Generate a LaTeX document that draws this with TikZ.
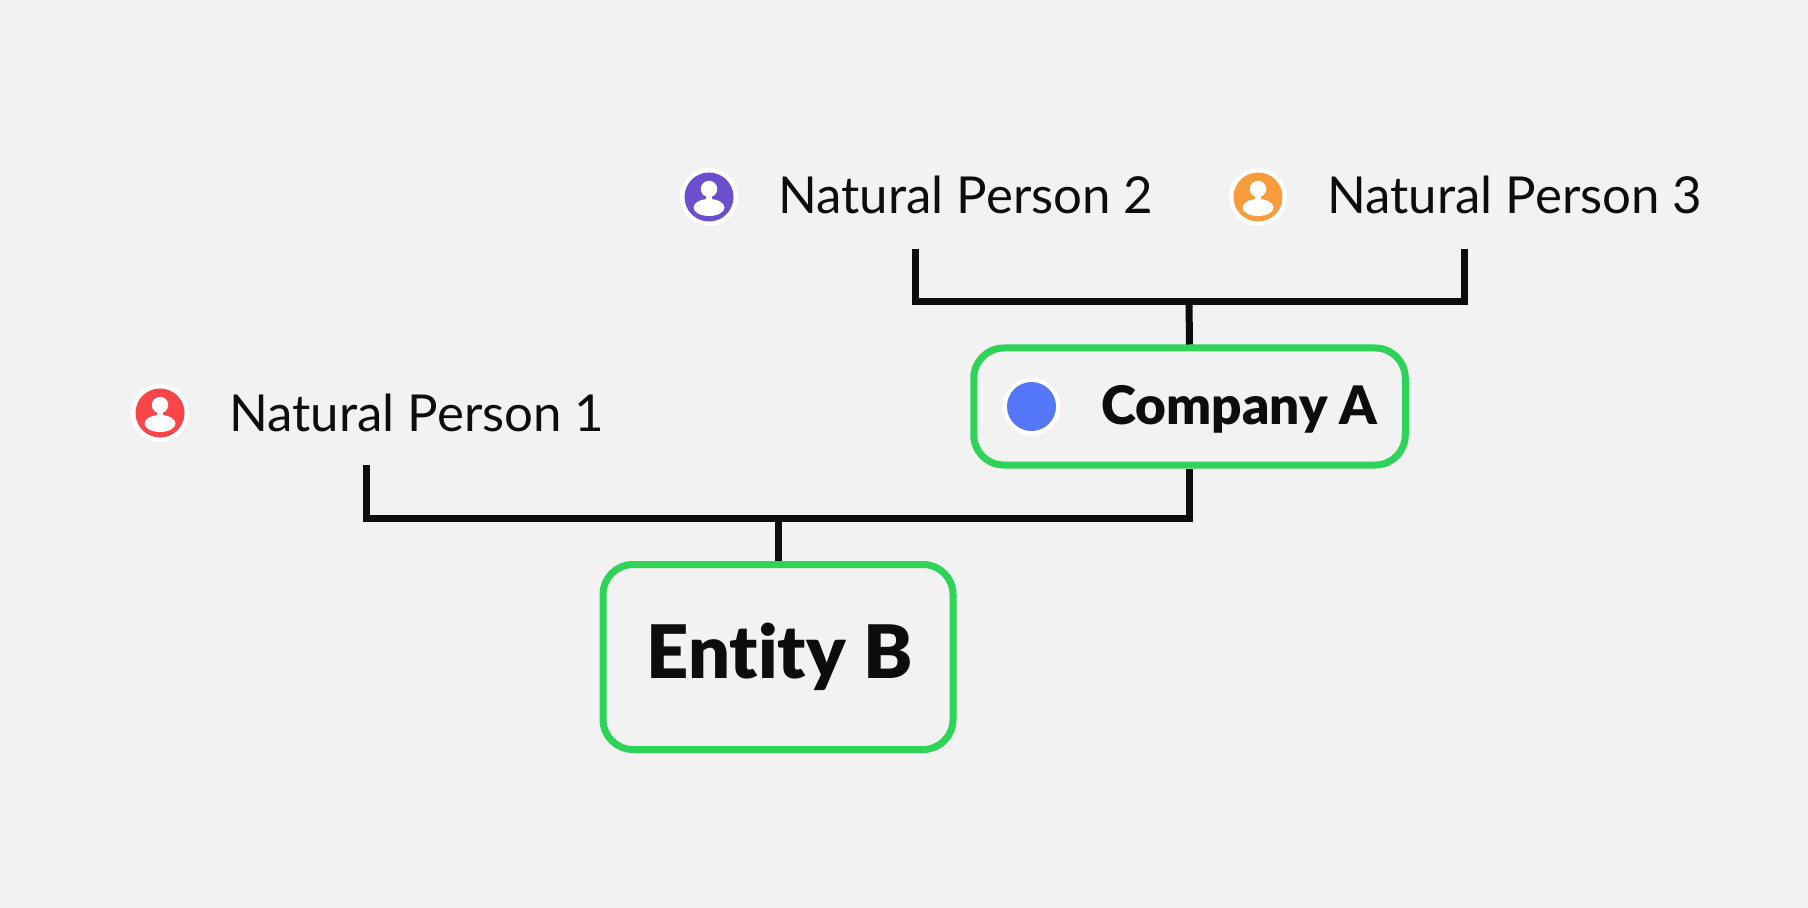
\documentclass[tikz,border=0pt]{standalone}
\usepackage{fontspec}
\setmainfont[BoldFont={Lato Black},Ligatures=NoCommon]{Lato}
\usetikzlibrary{calc}
\definecolor{pagegray}{HTML}{F2F2F2}
\definecolor{inkblack}{HTML}{0D0D0D}
\definecolor{boxgreen}{HTML}{2ED457}
\definecolor{iconred}{HTML}{FA4549}
\definecolor{iconpurple}{HTML}{6B4FCC}
\definecolor{iconorange}{HTML}{FA9C3E}
\definecolor{iconblue}{HTML}{5577FA}
\tikzset{
  link/.style={line width=1.4mm, draw=inkblack},
  entitybox/.style={draw=boxgreen, line width=1.4mm, rounded corners=6mm, inner sep=0pt},
  personlabel/.style={anchor=base west, inner sep=0pt, text=inkblack, font=\fontsize{29pt}{29pt}\selectfont},
  ringdot/.style={circle, fill=white, minimum size=11.6mm, inner sep=0pt},
  colordot/.style={circle, minimum size=9.8mm, inner sep=0pt},
}
\newcommand{\personicon}[3]{%
  \node[ringdot] (#1) at (#2) {};
  \node[colordot, fill=#3] at (#1) {};
  \fill[white] ($(#1)+(0,-8)$) circle (1.65mm);
  \fill[white] ($(#1)+(-3,-3)$) rectangle ($(#1)+(3,6)$);
  \fill[white] ($(#1)+(0,10.5)$) ellipse (3.1mm and 1.7mm);
}
\begin{document}
\begin{tikzpicture}[x=0.2mm, y=-0.2mm]
\useasboundingbox[fill=pagegray] (0,0) rectangle (1808,908);
% connectors first, the boxes sit on top
\coordinate (foottwo) at (915,249);
\coordinate (footthree) at (1464,249);
\coordinate (footone) at (366,465);
\coordinate (barupper) at (1189,302);
\coordinate (barlower) at (778,518);
\node[entitybox, minimum width=86.3mm, minimum height=23.4mm] (companyA) at (1189.5,406.5) {};
\node[entitybox, minimum width=70mm, minimum height=37mm] (entityB) at (778,657) {};
\draw[link] (foottwo) |- (barupper) -| (footthree);
\draw[link] (barupper) -- (companyA.north);
\draw[link] (footone) |- (barlower) -| (companyA.south);
\draw[link] (barlower) -- (entityB.north);
% people
\personicon{iconone}{160,413}{iconred}
\personicon{icontwo}{709,197}{iconpurple}
\personicon{iconthree}{1258,197}{iconorange}
\node[personlabel] (personone) at (229,431) {Natural Person 1};
\node[personlabel] (persontwo) at (778,214) {Natural Person 2};
\node[personlabel] (personthree) at (1327,214) {Natural Person 3};
% company
\node[ringdot] (iconcompany) at (1031.5,406.5) {};
\node[colordot, fill=iconblue] at (iconcompany) {};
\node[anchor=base west, inner sep=0pt, text=inkblack, font=\fontsize{30.2pt}{30pt}\selectfont\bfseries] (labelcompany) at (1101,424) {Company A};
\node[anchor=base, inner sep=0pt, text=inkblack, font=\fontsize{42pt}{42pt}\selectfont\bfseries] (labelentity) at (779.5,678) {Entity B};
\end{tikzpicture}
\end{document}
